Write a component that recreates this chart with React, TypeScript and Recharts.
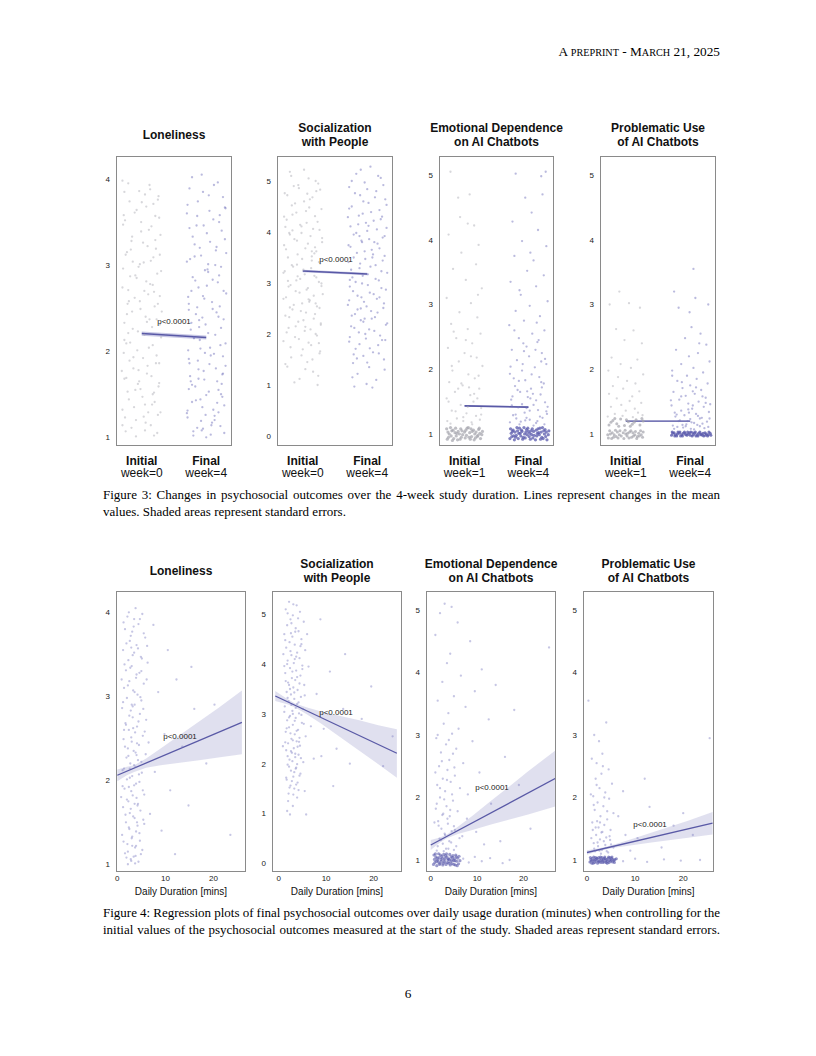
import React, { useLayoutEffect, useRef, useState } from 'react';
import { ComposedChart, Scatter, Line, Area, XAxis, YAxis } from 'recharts';

type P = [number, number];
type B = [number, number, number];

// ---------- Figure 3 data (x: 0 = initial, 1 = final, with jitter) ----------
const lonInit: P[] = [
  [-0.21,3.95],[0.05,3.82],[0.18,3.71],[-0.08,3.64],[0.27,3.55],[-0.29,3.47],[0.11,3.41],[-0.15,3.33],[0.02,3.26],[0.22,3.19],
  [-0.25,3.12],[0.14,3.05],[-0.05,2.98],[0.30,2.93],[-0.18,2.87],[0.07,2.81],[-0.30,2.74],[0.19,2.69],[-0.11,2.62],[0.25,2.55],
  [-0.02,2.49],[-0.23,2.43],[0.12,2.37],[0.28,2.31],[-0.14,2.26],[0.04,2.19],[-0.27,2.13],[0.17,2.07],[-0.07,2.01],[0.23,1.95],
  [-0.19,1.89],[0.09,1.83],[-0.31,1.77],[0.15,1.71],[-0.04,1.65],[0.26,1.59],[-0.22,1.53],[0.01,1.47],[0.20,1.41],[-0.12,1.35],
  [0.29,1.29],[-0.26,1.23],[0.06,1.17],[-0.16,1.11],[0.24,1.05],[-0.09,1.01],[0.13,3.88],[-0.28,3.58],[0.21,3.29],[-0.03,3.01],
  [0.17,2.77],[-0.20,2.58],[0.08,2.34],[-0.24,2.09],[0.27,1.86],[-0.06,1.62],[0.16,1.38],[-0.30,1.14],[0.03,1.24],[-0.13,1.93],
  [0.10,2.66],[-0.17,3.18],[0.25,3.76],[-0.01,3.50],[0.31,2.46],[-0.27,1.68],[0.19,1.52],[-0.10,2.88],[0.05,1.08],[-0.21,2.21],
];
const lonInit2: P[] = [
  [-0.30,3.98],[0.12,3.93],[-0.04,3.86],[0.26,3.80],[-0.19,3.74],[0.07,3.68],[-0.11,3.61],[0.21,3.57],[-0.26,3.52],[0.15,3.45],
  [-0.01,3.39],[0.29,3.35],[-0.16,3.28],[0.09,3.22],[-0.23,3.15],[0.18,3.09],[0.03,3.03],[-0.29,2.96],[0.24,2.90],[-0.08,2.85],
  [0.13,2.78],[-0.21,2.71],[0.28,2.64],[-0.03,2.58],[0.20,2.52],[-0.15,2.46],[0.06,2.40],[-0.27,2.33],[0.16,2.28],[-0.06,2.23],
  [0.30,2.16],[-0.18,2.10],[0.11,2.04],[-0.28,1.98],[0.02,1.92],[0.22,1.86],[-0.13,1.80],[0.08,1.74],[-0.24,1.69],[0.27,1.63],
  [-0.02,1.56],[0.17,1.50],[-0.20,1.44],[0.05,1.38],[-0.30,1.32],[0.25,1.26],[-0.09,1.20],[0.14,1.14],[-0.25,1.07],[0.19,1.02],
  [0.00,3.73],[-0.14,3.04],[0.23,2.37],[-0.05,1.78],[0.10,1.29],[-0.22,2.55],[0.28,3.12],[-0.10,1.55],[0.04,2.70],[-0.27,3.85],
];
const lonFinal: P[] = [
  [0.78,4.02],[1.12,3.93],[0.95,3.85],[1.26,3.79],[0.71,3.70],[1.05,3.63],[0.86,3.57],[1.20,3.50],[0.74,3.43],[1.01,3.37],
  [1.29,3.30],[0.82,3.24],[1.15,3.17],[0.92,3.11],[0.70,3.04],[1.23,2.98],[1.03,2.92],[0.79,2.86],[1.18,2.80],[0.88,2.74],
  [1.31,2.67],[0.97,2.61],[0.73,2.55],[1.10,2.49],[0.84,2.43],[1.27,2.37],[0.99,2.31],[0.76,2.25],[1.14,2.19],[0.90,2.13],
  [1.22,2.07],[0.72,2.01],[1.07,1.95],[0.87,1.89],[1.30,1.83],[0.96,1.77],[0.75,1.71],[1.17,1.65],[0.83,1.59],[1.04,1.53],
  [1.25,1.47],[0.78,1.41],[0.94,1.35],[1.19,1.29],[0.71,1.23],[1.09,1.17],[0.86,1.11],[1.28,1.05],[1.00,1.00],[0.80,1.02],
  [1.13,1.20],[0.91,1.44],[1.24,1.62],[0.74,1.86],[1.06,2.04],[0.89,2.28],[1.21,2.52],[0.77,2.70],[1.02,2.95],[1.16,3.21],
  [0.85,3.46],[1.30,3.66],[0.93,1.08],[1.11,1.32],[0.73,1.56],[1.26,1.74],[0.98,1.98],[0.81,2.16],[1.19,2.40],[0.95,2.64],
  [1.08,1.14],[0.70,1.28],[1.23,1.50],[0.88,1.68],[1.03,3.01],
];
const lonFinal2: P[] = [
  [0.93,4.05],[1.18,3.96],[0.74,3.89],[1.04,3.81],[0.87,3.74],[1.29,3.67],[0.70,3.60],[1.11,3.53],[0.96,3.46],[1.24,3.40],
  [0.79,3.33],[1.06,3.27],[0.90,3.20],[1.31,3.14],[0.75,3.07],[1.14,3.00],[0.98,2.94],[1.20,2.88],[0.83,2.82],[1.01,2.76],
  [1.27,2.70],[0.72,2.63],[1.09,2.57],[0.86,2.51],[1.16,2.45],[0.94,2.39],[0.77,2.33],[1.23,2.27],[1.03,2.21],[0.81,2.15],
  [1.30,2.09],[0.91,2.03],[1.12,1.97],[0.73,1.91],[1.05,1.85],[0.88,1.79],[1.25,1.73],[0.97,1.67],[0.78,1.61],[1.19,1.55],
  [1.00,1.49],[0.84,1.43],[1.28,1.37],[0.71,1.31],[1.13,1.25],[0.92,1.19],[1.22,1.13],[0.80,1.07],[1.07,1.03],[0.95,1.10],
  [1.17,1.40],[0.76,1.65],[1.26,1.94],[0.89,2.36],[1.10,2.83],[0.82,3.10],[1.21,3.58],[0.99,1.26],[1.15,1.80],[0.73,2.48],
];
const socInit: P[] = [
  [-0.20,5.18],[0.09,5.05],[0.24,4.95],[-0.06,4.86],[-0.28,4.76],[0.15,4.68],[0.02,4.60],[-0.17,4.52],[0.29,4.45],[-0.10,4.38],
  [0.19,4.31],[-0.25,4.24],[0.06,4.18],[-0.02,4.11],[0.26,4.04],[-0.21,3.98],[0.12,3.92],[-0.13,3.86],[0.30,3.80],[-0.29,3.74],
  [0.04,3.68],[0.21,3.62],[-0.08,3.56],[-0.23,3.50],[0.14,3.44],[0.27,3.38],[-0.15,3.32],[0.01,3.26],[-0.30,3.20],[0.18,3.14],
  [-0.04,3.08],[0.25,3.02],[-0.19,2.96],[0.08,2.90],[-0.11,2.84],[0.31,2.78],[-0.26,2.72],[0.11,2.66],[-0.01,2.60],[0.22,2.54],
  [-0.16,2.48],[0.05,2.42],[-0.27,2.36],[0.17,2.30],[-0.07,2.24],[0.28,2.18],[-0.22,2.12],[0.03,2.06],[0.20,2.00],[-0.12,1.94],
  [-0.30,1.86],[0.13,1.78],[0.00,1.70],[0.26,1.62],[-0.18,1.54],[0.07,1.45],[-0.24,1.36],[0.16,1.26],[-0.05,1.12],[0.23,1.00],
  [-0.14,4.90],[0.10,4.48],[-0.27,4.10],[0.19,3.70],[-0.09,3.36],[0.29,2.94],[-0.20,2.52],[0.04,2.14],[0.25,1.82],[-0.02,3.98],
  [0.14,3.52],[-0.23,3.04],[0.09,2.68],[-0.16,4.34],[0.21,4.80],
];
const socInit2: P[] = [
  [0.02,5.22],[-0.18,5.10],[0.20,5.00],[-0.07,4.92],[0.27,4.83],[-0.24,4.72],[0.11,4.64],[-0.12,4.56],[0.05,4.41],[-0.29,4.30],
  [0.23,4.20],[-0.04,4.14],[0.16,4.06],[-0.20,3.95],[0.30,3.88],[-0.09,3.83],[0.08,3.77],[-0.26,3.66],[0.18,3.58],[-0.01,3.47],
  [0.25,3.41],[-0.17,3.35],[0.13,3.29],[-0.28,3.23],[0.03,3.17],[0.21,3.11],[-0.10,3.05],[0.29,2.99],[-0.22,2.93],[0.06,2.87],
  [-0.05,2.81],[0.17,2.75],[-0.30,2.69],[0.10,2.63],[-0.14,2.57],[0.26,2.51],[-0.03,2.45],[0.19,2.39],[-0.21,2.33],[0.01,2.27],
  [0.28,2.21],[-0.11,2.15],[0.12,2.09],[-0.25,2.03],[0.22,1.97],[-0.06,1.90],[0.09,1.83],[-0.19,1.74],[0.27,1.66],[-0.02,1.58],
  [0.15,1.50],[-0.27,1.41],[0.04,1.31],[0.24,1.18],[-0.13,1.05],[0.07,4.75],[-0.16,4.03],[0.14,3.62],[-0.08,3.13],[0.20,2.60],
];
const socFinal: P[] = [
  [1.05,5.28],[0.83,5.14],[1.21,5.06],[0.96,4.97],[0.72,4.88],[1.14,4.80],[0.89,4.72],[1.28,4.64],[1.02,4.57],[0.76,4.50],
  [1.19,4.43],[0.93,4.36],[0.70,4.29],[1.10,4.22],[0.86,4.15],[1.30,4.08],[1.00,4.02],[0.79,3.95],[1.24,3.89],[0.91,3.83],
  [1.16,3.77],[0.74,3.71],[1.07,3.65],[0.84,3.59],[1.27,3.53],[0.97,3.47],[0.71,3.41],[1.13,3.35],[0.88,3.29],[1.22,3.23],
  [1.01,3.17],[0.77,3.11],[1.18,3.05],[0.92,2.99],[0.73,2.93],[1.29,2.87],[1.04,2.81],[0.85,2.75],[1.15,2.69],[0.95,2.63],
  [0.70,2.57],[1.25,2.51],[1.06,2.45],[0.81,2.39],[1.12,2.33],[0.90,2.27],[1.31,2.21],[0.75,2.15],[1.03,2.09],[0.87,2.03],
  [1.20,1.97],[0.98,1.91],[0.72,1.85],[1.17,1.78],[0.82,1.71],[1.09,1.64],[0.94,1.57],[1.26,1.50],[0.78,1.43],[1.03,1.35],
  [0.85,1.22],[1.14,1.10],[0.80,0.97],[0.99,1.02],[1.23,4.30],[0.88,3.92],[1.08,3.50],[0.73,3.06],[1.19,2.72],[0.96,2.30],
  [1.28,1.88],[0.79,1.60],[1.11,3.80],[0.90,2.50],[1.02,4.12],
];
const socFinal2: P[] = [
  [0.90,5.22],[1.17,5.10],[0.76,5.00],[1.25,4.92],[1.00,4.84],[0.81,4.76],[1.12,4.68],[0.94,4.60],[1.30,4.53],[0.72,4.46],
  [1.06,4.39],[0.87,4.32],[1.21,4.25],[0.98,4.18],[0.74,4.11],[1.15,4.05],[0.83,3.98],[1.27,3.92],[1.03,3.86],[0.92,3.80],
  [0.71,3.74],[1.19,3.68],[0.96,3.62],[1.09,3.56],[0.79,3.50],[1.24,3.44],[0.89,3.38],[1.05,3.32],[0.75,3.26],[1.31,3.20],
  [0.93,3.14],[1.13,3.08],[0.82,3.02],[1.01,2.96],[1.22,2.90],[0.78,2.84],[1.10,2.78],[0.91,2.72],[0.72,2.66],[1.26,2.60],
  [0.99,2.54],[0.85,2.48],[1.16,2.42],[0.76,2.36],[1.07,2.30],[0.94,2.24],[1.29,2.18],[0.80,2.12],[1.11,2.06],[0.97,2.00],
  [0.73,1.94],[1.23,1.88],[0.88,1.80],[1.04,1.72],[1.18,1.62],[0.84,1.52],[1.00,1.44],[1.27,1.30],[0.77,1.15],[1.08,0.95],
];
const edInitSparse: P[] = [
  [-0.22,5.05],[0.08,4.70],[-0.10,4.65],[0.15,4.22],[-0.25,4.08],[0.05,4.25],[0.22,3.92],[-0.05,3.80],[0.18,3.62],[-0.18,3.55],
  [0.02,3.38],[0.27,3.25],[-0.28,3.10],[0.10,3.02],[-0.08,2.88],[0.20,2.80],[-0.21,2.70],[0.05,2.62],[0.25,2.55],[-0.13,2.48],
  [0.12,2.40],[-0.26,2.33],[0.00,2.25],[0.19,2.18],[-0.09,2.12],[0.28,2.05],[-0.19,1.98],[0.06,1.92],[0.16,1.86],[-0.24,1.80],
  [-0.03,1.75],[0.23,1.70],[-0.15,1.65],[0.09,1.60],[-0.28,1.55],[0.14,1.50],[-0.06,1.45],[0.26,1.40],[-0.20,1.36],[0.03,1.32],
  [0.18,1.28],[-0.12,1.24],[-0.27,1.20],[0.11,1.18],[0.24,1.22],[-0.02,1.26],[0.07,1.72],[-0.17,2.58],[0.21,3.15],[-0.07,4.35],
  [0.10,2.20],[-0.20,2.05],[0.22,1.90],[-0.05,1.78],[0.15,1.62],[-0.25,1.50],[0.05,1.42],[-0.14,1.35],[0.26,1.30],[-0.02,1.20],
  [0.12,1.15],[-0.22,1.16],[0.20,1.55],[-0.10,1.70],[0.02,2.45],
];
const edInitBand: P[] = [
  [-0.27,0.92],[-0.20,1.05],[-0.13,0.97],[-0.06,1.08],[0.01,0.94],[0.08,1.02],[0.15,0.91],[0.22,1.07],[0.27,0.99],
  [-0.24,1.00],[-0.17,0.93],[-0.10,1.04],[-0.03,0.99],[0.04,1.09],[0.11,0.96],[0.18,1.03],[0.25,0.93],
  [-0.28,1.08],[-0.21,0.97],[-0.14,1.09],[-0.07,0.92],[0.00,1.03],[0.07,0.95],[0.14,1.06],[0.21,0.98],[0.28,1.04],
  [-0.25,0.95],[-0.18,1.06],[-0.11,0.91],[-0.04,1.05],[0.03,0.98],[0.10,1.08],[0.17,0.94],[0.24,1.01],
  [-0.26,1.03],[-0.19,0.90],[-0.12,1.01],[-0.05,0.95],[0.02,1.06],[0.09,0.92],[0.16,1.00],[0.23,1.09],
  [-0.22,1.10],[-0.08,1.00],[0.06,1.10],[0.20,0.96],[-0.15,1.02],[0.12,1.04],
];
const edFinalSparse: P[] = [
  [0.80,5.02],[1.27,5.05],[1.20,4.98],[0.95,4.65],[1.22,4.70],[1.05,4.42],[0.75,4.28],[1.15,4.15],[0.90,3.98],[1.28,3.90],
  [0.78,3.75],[1.08,3.68],[0.98,3.52],[1.24,3.45],[0.72,3.35],[1.12,3.28],[0.88,3.15],[1.30,3.05],[1.02,2.98],[0.80,2.90],
  [1.18,2.82],[0.93,2.75],[0.70,2.68],[1.25,2.60],[1.06,2.55],[0.85,2.48],[1.14,2.42],[0.97,2.35],[0.74,2.30],[1.21,2.25],
  [1.01,2.20],[0.82,2.14],[1.28,2.08],[1.10,2.03],[0.90,1.98],[0.71,1.93],[1.17,1.88],[0.95,1.83],[1.24,1.78],[0.79,1.74],
  [1.04,1.70],[0.87,1.65],[1.19,1.61],[0.99,1.57],[0.73,1.53],[1.26,1.49],[1.08,1.45],[0.84,1.41],[1.15,1.37],[0.94,1.33],
  [0.76,1.29],[1.22,1.25],[1.02,1.22],[0.88,1.19],[1.12,1.17],[0.81,1.24],[1.29,1.31],[0.97,1.40],[1.07,1.62],[0.77,1.86],
  [1.20,2.12],[0.92,2.40],[1.13,2.72],[0.86,3.22],[1.03,3.80],
  [0.78,2.60],[1.16,2.45],[0.93,2.28],[1.26,2.16],[0.72,2.04],[1.05,1.92],[0.85,1.82],[1.21,1.72],[0.98,1.66],[0.75,1.58],
  [1.12,1.52],[0.90,1.46],[1.30,1.42],[1.02,1.36],[0.80,1.30],[1.18,1.27],[0.95,1.21],[0.71,1.18],[1.25,1.15],[1.08,1.13],
  [0.86,1.15],[1.14,1.20],[0.97,1.25],[1.28,1.35],[0.74,1.44],[1.03,1.55],[0.83,1.68],[1.20,1.80],[0.91,2.08],[1.11,2.30],
];
const edFinalBand: P[] = [
  [0.71,0.93],[0.76,1.06],[0.81,0.98],[0.86,1.09],[0.91,0.92],[0.96,1.03],[1.01,0.96],[1.06,1.08],[1.11,0.91],[1.16,1.02],[1.21,0.95],[1.26,1.07],[1.31,0.99],
  [0.73,1.01],[0.78,0.91],[0.83,1.05],[0.88,0.97],[0.93,1.10],[0.98,0.99],[1.03,0.92],[1.08,1.04],[1.13,0.97],[1.18,1.09],[1.23,0.93],[1.28,1.03],
  [0.72,1.08],[0.77,0.97],[0.82,1.10],[0.87,1.01],[0.92,0.95],[0.97,1.07],[1.02,1.01],[1.07,0.94],[1.12,1.06],[1.17,0.99],[1.22,1.10],[1.27,0.96],[1.32,1.05],
  [0.74,0.96],[0.79,1.03],[0.84,0.93],[0.89,1.06],[0.94,1.00],[0.99,1.09],[1.04,1.05],[1.09,0.98],[1.14,1.01],[1.19,0.92],[1.24,1.05],[1.29,0.91],
  [0.75,1.04],[0.85,1.01],[0.95,0.94],[1.05,0.99],[1.15,1.08],[1.25,1.00],[0.80,0.95],[1.00,1.04],[1.20,1.03],[0.90,1.04],
];
const puInitSparse: P[] = [
  [-0.10,3.20],[-0.25,3.00],[0.05,3.02],[0.22,2.95],[-0.15,2.62],[0.12,2.60],[-0.02,2.45],[0.25,2.40],[-0.22,2.18],[0.18,2.15],
  [-0.08,2.08],[0.08,2.02],[-0.27,1.98],[0.27,1.92],[-0.12,1.88],[0.02,1.82],[0.15,1.78],[-0.20,1.74],[-0.04,1.70],[0.21,1.66],
  [-0.26,1.62],[0.10,1.58],[-0.14,1.55],[0.06,1.51],[0.24,1.48],[-0.07,1.45],[-0.23,1.42],[0.14,1.39],[0.00,1.36],[0.19,1.33],
  [-0.17,1.31],[-0.05,1.28],[0.11,1.26],[0.26,1.29],[-0.28,1.27],
];
const puInitBand: P[] = [
  [-0.27,0.94],[-0.21,1.02],[-0.15,0.96],[-0.09,1.05],[-0.03,0.93],[0.03,1.01],[0.09,0.95],[0.15,1.04],[0.21,0.97],[0.27,1.03],
  [-0.25,1.05],[-0.19,0.95],[-0.13,1.03],[-0.07,0.97],[-0.01,1.06],[0.05,0.94],[0.11,1.02],[0.17,0.93],[0.23,1.05],
  [-0.28,0.99],[-0.22,0.93],[-0.16,1.06],[-0.10,0.99],[-0.04,1.02],[0.02,0.97],[0.08,1.05],[0.14,0.99],[0.20,1.01],[0.26,0.95],
  [-0.24,1.00],[-0.12,0.94],[0.00,1.00],[0.12,0.97],[0.24,0.99],[-0.18,0.99],[0.06,1.03],[0.18,0.96],
  [-0.26,1.14],[-0.20,1.21],[-0.14,1.16],[-0.08,1.23],[-0.02,1.13],[0.04,1.19],[0.10,1.15],[0.16,1.22],[0.22,1.14],[0.27,1.20],
  [-0.23,1.18],[-0.11,1.12],[0.01,1.22],[0.13,1.18],[0.25,1.24],[-0.17,1.24],[0.07,1.12],
];
const puFinalSparse: P[] = [
  [1.05,3.55],[0.75,3.20],[1.08,3.10],[1.28,3.00],[0.82,2.95],[1.02,2.65],[1.16,2.55],[0.92,2.48],[1.25,2.38],[0.78,2.30],
  [1.12,2.25],[0.98,2.20],[1.30,2.12],[0.86,2.08],[1.05,2.02],[0.72,1.98],[1.20,1.95],[0.95,1.90],[1.10,1.85],[0.80,1.82],
  [1.27,1.78],[1.00,1.75],[0.88,1.71],[1.17,1.68],[0.74,1.65],[1.07,1.62],[0.93,1.59],[1.24,1.56],[0.83,1.53],[1.13,1.50],
  [0.97,1.47],[0.71,1.44],[1.21,1.42],[1.03,1.39],[0.86,1.36],[1.29,1.34],[1.09,1.31],[0.91,1.29],[0.77,1.27],[1.18,1.25],
  [1.00,1.23],[0.84,1.21],[1.26,1.19],[1.06,1.17],[0.94,1.15],[0.73,1.13],[1.15,1.12],[0.89,1.10],[1.22,1.09],[1.01,1.08],
  [0.80,1.11],[1.11,1.14],[0.96,1.20],[1.30,1.24],[0.76,1.33],[1.04,1.44],[1.19,1.58],[0.87,1.80],[1.14,2.40],[0.99,2.88],
  [0.72,1.90],[1.09,1.72],[0.86,1.58],[1.24,1.48],[0.97,1.38],[0.79,1.30],[1.15,1.24],[1.02,1.18],[0.88,1.14],[1.28,1.11],
  [0.75,1.08],[1.06,1.07],[0.93,1.12],[1.19,1.16],[0.82,1.20],[1.12,1.28],[0.98,1.33],[1.31,1.46],[0.70,1.52],[1.04,1.66],
];
const puFinalBand: P[] = [
  [0.71,0.98],[0.75,1.02],[0.79,0.97],[0.83,1.01],[0.87,0.99],[0.91,1.03],[0.95,0.98],[0.99,1.02],[1.03,0.97],[1.07,1.01],[1.11,0.99],[1.15,1.03],[1.19,0.98],[1.23,1.02],[1.27,0.97],[1.31,1.01],
  [0.73,1.01],[0.77,0.99],[0.81,1.03],[0.85,0.97],[0.89,1.01],[0.93,0.99],[0.97,1.00],[1.01,1.03],[1.05,0.99],[1.09,0.97],[1.13,1.01],[1.17,1.00],[1.21,0.97],[1.25,1.00],[1.29,1.03],
  [0.72,1.03],[0.76,0.97],[0.80,1.00],[0.84,1.03],[0.88,0.97],[0.92,1.01],[0.96,1.03],[1.00,0.98],[1.04,1.02],[1.08,1.03],[1.12,0.97],[1.16,0.99],[1.20,1.01],[1.24,0.98],[1.28,0.99],[1.32,0.98],
];
// mean-change lines and standard-error bands (x, value) / (x, low, high)
const lonMean: P[] = [[0, 2.205], [1, 2.159]];
const lonMeanSE: B[] = [[0, 2.18, 2.23], [1, 2.135, 2.183]];
const socMean: P[] = [[0, 3.235], [1, 3.176]];
const socMeanSE: B[] = [[0, 3.212, 3.258], [1, 3.153, 3.199]];
const edMean: P[] = [[0, 1.435], [1, 1.415]];
const edMeanSE: B[] = [[0, 1.42, 1.45], [1, 1.40, 1.43]];
const puMean: P[] = [[0, 1.2], [1, 1.2]];
const puMeanSE: B[] = [[0, 1.19, 1.21], [1, 1.19, 1.21]];

// ---------- Figure 4 data (x: daily duration in minutes) ----------
const lonRegPts: P[] = [
  [3.8,4.05],[5.2,3.98],[2.1,3.95],[4.4,3.86],[1.6,3.80],[3.1,3.77],[5.8,3.70],[2.6,3.66],[4.0,3.61],[1.2,3.55],
  [3.5,3.52],[4.9,3.47],[2.3,3.43],[6.3,3.40],[3.0,3.36],[1.8,3.31],[4.6,3.28],[3.9,3.22],[2.5,3.18],[5.5,3.15],
  [1.4,3.10],[3.3,3.07],[4.2,3.02],[2.0,2.98],[5.0,2.95],[3.6,2.90],[1.0,2.86],[2.8,2.83],[4.7,2.79],[3.2,2.75],
  [6.0,2.72],[1.7,2.68],[4.1,2.64],[2.4,2.60],[3.7,2.57],[5.3,2.53],[1.3,2.49],[3.0,2.46],[4.5,2.42],[2.2,2.38],
  [3.4,2.35],[5.9,2.31],[1.9,2.27],[4.3,2.24],[2.7,2.20],[3.8,2.16],[1.1,2.12],[5.1,2.09],[3.1,2.05],[2.0,2.01],
  [4.6,1.98],[3.5,1.94],[1.5,1.90],[2.9,1.87],[5.6,1.83],[4.0,1.79],[2.3,1.75],[3.6,1.72],[1.2,1.68],[4.8,1.64],
  [2.6,1.61],[3.3,1.57],[5.4,1.53],[1.8,1.50],[4.2,1.46],[2.5,1.42],[3.9,1.39],[1.0,1.35],[3.0,1.31],[4.7,1.28],
  [2.1,1.24],[3.7,1.20],[5.2,1.17],[1.6,1.13],[3.4,1.09],[2.8,1.06],[4.4,1.03],[2.2,1.00],[3.5,3.92],[4.1,1.50],
  [2.9,3.58],[3.2,2.88],[4.0,2.30],[2.4,1.92],[3.8,1.10],[1.4,2.60],[5.0,3.30],[2.6,2.14],[4.3,1.72],[3.1,1.22],
  [8.5,3.05],[9.8,2.55],[11.0,1.88],[12.3,3.20],[13.5,2.40],[14.8,1.70],[16.0,2.85],[9.2,1.40],[18.5,2.20],[10.5,3.55],
  [7.5,3.85],[23.5,1.35],[20.2,2.90],[12.0,1.12],[7.8,2.10],[15.4,3.35],
];
const lonRegPts2: P[] = [
  [2.4,4.00],[4.7,3.92],[1.3,3.88],[3.4,3.83],[5.5,3.75],[2.8,3.72],[1.9,3.63],[4.3,3.57],[3.2,3.49],[5.1,3.45],
  [1.5,3.38],[2.7,3.34],[4.0,3.26],[6.1,3.20],[2.2,3.13],[3.6,3.05],[4.8,2.99],[1.2,2.93],[3.0,2.90],[5.4,2.85],
  [2.5,2.77],[4.4,2.70],[1.8,2.66],[3.3,2.62],[5.7,2.58],[2.9,2.51],[4.1,2.44],[1.6,2.40],[3.8,2.33],[2.3,2.29],
  [5.0,2.22],[3.5,2.18],[1.4,2.14],[4.5,2.07],[2.6,2.03],[3.9,1.96],[1.1,1.93],[5.3,1.88],[3.2,1.82],[2.0,1.77],
  [4.2,1.70],[2.8,1.66],[1.7,1.59],[3.6,1.55],[5.6,1.48],[2.4,1.44],[4.6,1.37],[3.1,1.33],[1.3,1.27],[3.9,1.22],
  [2.2,1.15],[4.9,1.12],[2.9,1.04],[3.7,1.01],[1.9,1.08],[6.5,2.45],[6.8,1.60],[6.2,3.60],[0.9,3.20],[0.8,1.80],
];
const socRegPts: P[] = [
  [2.2,5.25],[3.8,5.18],[1.5,5.10],[4.5,5.05],[3.0,4.98],[2.5,4.90],[5.3,4.85],[1.8,4.78],[3.6,4.72],[4.2,4.66],
  [1.2,4.60],[2.9,4.55],[4.8,4.50],[2.3,4.44],[3.4,4.39],[1.6,4.33],[5.6,4.28],[3.9,4.23],[2.7,4.18],[4.4,4.12],
  [1.9,4.07],[3.2,4.02],[5.0,3.97],[2.4,3.92],[3.7,3.87],[1.4,3.82],[4.6,3.77],[2.8,3.72],[3.5,3.68],[2.0,3.63],
  [5.4,3.58],[3.1,3.53],[4.0,3.48],[1.7,3.44],[2.6,3.39],[4.7,3.34],[3.3,3.30],[2.1,3.25],[3.9,3.20],[1.3,3.15],
  [5.1,3.10],[2.9,3.06],[4.3,3.01],[2.4,2.96],[3.6,2.92],[1.8,2.87],[4.9,2.82],[3.0,2.78],[2.2,2.73],[4.1,2.68],
  [1.5,2.64],[3.4,2.59],[5.7,2.55],[2.7,2.50],[3.8,2.45],[2.0,2.41],[4.5,2.36],[3.2,2.31],[1.6,2.27],[2.8,2.22],
  [4.2,2.18],[3.5,2.13],[2.3,2.08],[5.2,2.03],[1.9,1.98],[3.7,1.92],[2.6,1.86],[4.6,1.80],[3.1,1.74],[1.7,1.68],
  [4.0,1.62],[2.5,1.56],[3.3,1.50],[5.5,1.45],[2.1,1.40],[3.9,1.32],[1.8,1.05],[2.4,0.98],[5.8,0.98],[3.0,1.15],
  [2.6,4.62],[3.4,4.10],[2.2,3.58],[3.0,3.00],[4.3,2.44],[1.2,3.96],[4.8,4.40],[3.6,1.90],
  [8.0,3.40],[9.5,2.70],[10.8,3.85],[12.2,2.30],[13.6,3.10],[15.0,2.00],[8.8,4.90],[17.5,2.90],[19.5,3.55],[22.0,1.95],
  [11.5,1.55],[7.4,2.10],[14.0,4.20],[24.0,2.55],[9.0,2.15],
];
const socRegPts2: P[] = [
  [3.1,5.20],[1.9,5.02],[4.1,4.92],[2.7,4.82],[3.5,4.65],[1.4,4.48],[4.6,4.36],[2.5,4.26],[3.7,4.15],[1.8,4.00],
  [5.0,3.90],[2.9,3.85],[3.9,3.74],[1.5,3.66],[4.4,3.61],[2.4,3.50],[3.3,3.43],[5.5,3.37],[1.9,3.32],[4.2,3.23],
  [2.7,3.18],[3.6,3.12],[1.2,3.04],[4.8,2.98],[2.2,2.93],[3.4,2.86],[5.3,2.80],[1.7,2.71],[3.8,2.66],[2.5,2.61],
  [4.4,2.52],[3.0,2.47],[1.4,2.43],[4.0,2.34],[2.6,2.25],[3.5,2.20],[1.9,2.15],[4.7,2.11],[2.9,2.05],[3.9,1.99],
  [2.2,1.94],[3.3,1.83],[4.4,1.76],[1.6,1.72],[2.8,1.65],[3.7,1.58],[2.3,1.52],[4.2,1.47],[3.1,1.38],[2.0,1.25],
  [6.3,3.95],[6.8,2.75],[6.0,4.60],[0.9,2.35],[1.0,4.20],
];
const edRegPts: P[] = [
  [3.0,5.10],[4.5,5.05],[2.0,4.95],[5.8,4.80],[8.5,4.50],[1.0,4.60],[4.2,4.30],[25.5,4.40],[3.5,4.15],[11.0,4.05],
  [6.5,3.95],[2.5,3.85],[14.0,3.80],[9.5,3.70],[5.0,3.62],[1.5,3.55],[7.5,3.45],[3.8,3.35],[18.0,3.40],[12.5,3.25],
  [2.8,3.18],[6.0,3.10],[4.6,3.02],[1.2,2.95],[9.0,2.90],[3.3,2.85],[5.5,2.78],[2.2,2.72],[16.0,2.65],[4.0,2.60],
  [7.0,2.55],[1.8,2.50],[3.6,2.44],[10.5,2.40],[5.2,2.35],[2.6,2.30],[4.3,2.25],[1.4,2.20],[6.3,2.15],[3.1,2.10],
  [8.0,2.05],[2.0,2.00],[4.8,1.95],[13.0,1.90],[3.4,1.86],[1.1,1.82],[5.8,1.78],[2.7,1.74],[4.1,1.70],[7.8,1.66],
  [1.6,1.62],[3.7,1.58],[5.0,1.54],[2.3,1.50],[4.5,1.46],[3.0,1.42],[6.8,1.38],[1.9,1.34],[4.0,1.30],[2.6,1.26],
  [5.5,1.22],[3.3,1.18],[1.3,1.15],[9.8,1.45],[21.5,1.50],[19.0,2.20],[15.0,1.30],[11.5,1.25],
  [1.5,3.00],[3.9,2.92],[2.4,2.58],[5.1,2.48],[1.0,2.40],[3.5,2.28],[2.0,2.15],[4.6,2.05],[2.9,1.97],[1.3,1.90],
  [4.2,1.80],[2.5,1.72],[3.6,1.66],[1.7,1.55],[5.2,1.48],[3.1,1.40],[2.2,1.32],[4.4,1.28],[1.5,1.22],[3.8,1.18],
  [2.8,1.14],[5.0,1.16],[6.2,1.35],[0.8,1.60],[4.8,2.70],
  [7.0,1.02],[8.2,0.96],[9.5,1.05],[11.0,0.98],[12.8,1.03],[15.5,0.95],[17.0,1.00],
];
const edRegBand: P[] = [
  [0.6,0.93],[1.1,1.05],[1.6,0.97],[2.1,1.08],[2.6,0.92],[3.1,1.03],[3.6,0.96],[4.1,1.09],[4.6,0.94],[5.1,1.02],[5.6,0.98],[6.1,1.06],
  [0.8,1.01],[1.3,0.91],[1.8,1.04],[2.3,0.98],[2.8,1.09],[3.3,0.93],[3.8,1.02],[4.3,0.97],[4.8,1.07],[5.3,0.92],[5.8,1.03],
  [0.7,1.08],[1.2,0.98],[1.7,1.10],[2.2,1.01],[2.7,0.95],[3.2,1.07],[3.7,1.00],[4.2,0.92],[4.7,1.04],[5.2,0.99],[5.7,0.91],[6.3,0.99],
  [0.9,0.96],[1.4,1.03],[1.9,0.93],[2.4,1.06],[2.9,1.00],[3.4,1.10],[3.9,0.95],[4.4,1.05],[4.9,0.99],[5.4,1.08],[6.0,0.94],
  [1.0,1.10],[1.5,1.00],[2.0,0.95],[2.5,1.03],[3.0,0.97],[3.5,1.05],[4.0,1.01],[4.5,1.00],[5.0,0.93],[5.5,1.05],
];
const puRegPts: P[] = [
  [0.3,3.55],[4.0,3.20],[1.5,3.00],[2.5,2.90],[3.2,2.70],[1.0,2.62],[2.0,2.55],[4.5,2.45],[3.0,2.38],[1.8,2.30],
  [5.2,2.22],[2.6,2.15],[3.8,2.08],[1.3,2.02],[4.6,1.98],[2.2,1.92],[3.4,1.86],[1.6,1.80],[5.5,1.75],[2.8,1.70],
  [4.2,1.65],[1.1,1.60],[3.6,1.56],[2.4,1.52],[4.9,1.48],[3.0,1.44],[1.9,1.40],[4.0,1.36],[2.7,1.33],[3.5,1.30],
  [1.4,1.27],[5.0,1.25],[2.3,1.22],[3.9,1.19],[3.1,1.16],[1.7,1.14],[4.4,1.12],[2.9,1.10],[6.5,1.70],[7.5,2.10],
  [8.0,1.40],[10.5,1.35],[13.0,1.85],[15.5,1.20],[18.0,1.55],[22.0,1.40],[25.5,2.95],[12.0,2.30],[9.0,1.15],[20.0,1.75],
  [0.8,2.05],[3.3,2.50],[2.1,1.62],[4.7,1.38],[1.2,1.48],
  [2.0,2.20],[3.6,2.00],[1.4,1.88],[4.2,1.78],[2.7,1.60],[1.8,1.52],[3.2,1.45],[4.8,1.32],[2.2,1.28],[3.8,1.24],
  [1.5,1.18],[2.6,1.15],[4.1,1.14],[5.5,1.20],[0.9,1.35],
  [7.5,0.98],[10.0,1.02],[12.5,0.97],[16.0,1.01],[19.5,0.99],[23.5,1.00],
];
const puRegBand: P[] = [
  [0.6,0.97],[1.1,1.03],[1.6,0.96],[2.1,1.02],[2.6,0.98],[3.1,1.04],[3.6,0.97],[4.1,1.01],[4.6,0.96],[5.1,1.03],[5.6,0.99],[6.1,1.02],
  [0.8,1.01],[1.3,0.95],[1.8,1.04],[2.3,0.99],[2.8,1.05],[3.3,0.96],[3.8,1.02],[4.3,0.98],[4.8,1.04],[5.3,0.97],[5.8,1.01],
  [0.7,1.04],[1.2,0.99],[1.7,1.01],[2.2,0.95],[2.7,1.02],[3.2,0.99],[3.7,1.05],[4.2,0.95],[4.7,1.00],[5.2,1.05],[5.7,0.96],
  [0.9,0.99],[1.4,1.05],[1.9,0.98],[2.4,1.04],[2.9,0.96],[3.4,1.01],[3.9,0.99],[4.4,1.03],[4.9,0.98],[5.4,1.01],
  [1.0,0.95],[1.5,1.00],[2.0,1.03],[2.5,0.97],[3.0,1.00],[3.5,1.03],[4.0,0.96],[4.5,1.05],[5.0,1.00],
];
// regression fits and standard-error bands
const lonFit: P[] = [[0, 2.06], [25.9, 2.69]];
const lonSE: B[] = [[0,1.99,2.13],[2,2.06,2.16],[3.5,2.10,2.18],[6,2.15,2.26],[9,2.18,2.38],[13,2.21,2.54],[17,2.24,2.70],[21,2.27,2.86],[25.9,2.31,3.07]];
const socFit: P[] = [[-0.7, 3.36], [24.9, 2.21]];
const socSE: B[] = [[-0.7,3.26,3.46],[2,3.19,3.29],[3.5,3.13,3.21],[6,2.99,3.13],[9,2.80,3.05],[13,2.53,2.96],[17,2.26,2.87],[21,1.99,2.77],[24.9,1.72,2.69]];
const edFit: P[] = [[0, 1.24], [27, 2.31]];
const edSE: B[] = [[0,1.16,1.32],[2,1.28,1.36],[3.5,1.35,1.41],[6,1.42,1.54],[9,1.48,1.71],[13,1.57,1.95],[17,1.65,2.18],[21,1.73,2.42],[27,1.86,2.76]];
const puFit: P[] = [[0, 1.12], [26.1, 1.59]];
const puSE: B[] = [[0,1.085,1.155],[2,1.135,1.18],[3.5,1.165,1.205],[6,1.20,1.256],[9,1.234,1.33],[13,1.275,1.43],[17,1.315,1.53],[21,1.355,1.63],[26.1,1.41,1.77]];

const ticks0to5 = [0, 1, 2, 3, 4, 5];
const ticks1to5 = [1, 2, 3, 4, 5];
const ticks1to4 = [1, 2, 3, 4];
const durationTicks = [0, 10, 20];
const groupTicks = [0, 1];
const labelsW0: [string, string][] = [['Initial', 'week=0'], ['Final', 'week=4']];
const labelsW1: [string, string][] = [['Initial', 'week=1'], ['Final', 'week=4']];

// ---------- styling ----------
const SANS = '"Liberation Sans", Arial, Helvetica, sans-serif';
const SERIF = '"Liberation Serif", "Times New Roman", Times, serif';
const GRAY = '#a6a6b0';
const GRAY_D = '#a4a4ac';
const BLUE = '#7676be';
const BLUE_D = '#5a5aac';
const LINE = '#5959a6';

interface Cloud { pts: P[]; color: string; r: number; op: number }
interface PanelCfg {
  box: [number, number, number, number];
  title: string[];
  titleTop: number;
  xDomain: [number, number];
  yDomain: [number, number];
  yTicks: number[];
  xTicks: number[];
  groupLabels?: [string, string][];
  clouds: Cloud[];
  fit: P[];
  se: B[];
  lineWidth: number;
  bandColor: string;
  p?: [number, number];
}

const toXY = (a: P[]) => a.map(([x, y]) => ({ x, y }));
const toFit = (a: P[]) => a.map(([x, fit]) => ({ x, fit }));
const toBand = (a: B[]) => a.map(([x, lo, hi]) => ({ x, band: [lo, hi] }));

const dotShape = (color: string, r: number, op: number) => (props: any) => {
  if (props == null || props.cx == null || props.cy == null) return <g />;
  return <circle cx={props.cx} cy={props.cy} r={r} fill={color} fillOpacity={op} />;
};

const makeGroupTick = (labels: [string, string][]) => (props: any) => {
  const { x, y, payload } = props;
  const i = payload && payload.value >= 0.5 ? 1 : 0;
  return (
    <g>
      <text x={x} y={y + 19} textAnchor="middle" fontFamily={SANS} fontSize={12} fontWeight="bold" fill="#111">{labels[i][0]}</text>
      <text x={x} y={y + 31} textAnchor="middle" fontFamily={SANS} fontSize={12} fill="#111">{labels[i][1]}</text>
    </g>
  );
};

function Panel({ cfg }: { cfg: PanelCfg }) {
  const [L, T, W, H] = cfg.box;
  const yw = 30;
  const xh = cfg.groupLabels ? 40 : 14;
  const tick = cfg.groupLabels ? makeGroupTick(cfg.groupLabels) : { fontSize: 8, fill: '#222', fontFamily: SANS };
  return (
    <>
      <div style={{ position: 'absolute', left: L - 20, top: cfg.titleTop, width: W + 40, height: 28, display: 'flex', flexDirection: 'column', justifyContent: 'center', alignItems: 'center', fontFamily: SANS, fontWeight: 'bold', fontSize: 12, lineHeight: '13.7px', color: '#111' }}>
        {cfg.title.map((t, i) => <div key={i}>{t}</div>)}
      </div>
      <div style={{ position: 'absolute', left: L - yw, top: T, width: W + yw, height: H + xh }}>
        <ComposedChart width={W + yw} height={H + xh} margin={{ top: 0, right: 0, bottom: 0, left: 0 }}>
          <XAxis type="number" dataKey="x" domain={cfg.xDomain} allowDataOverflow ticks={cfg.xTicks} interval={0}
            height={xh} axisLine={false} tickLine={false} tickSize={0} tickMargin={cfg.groupLabels ? 0 : 3} tick={tick as any} />
          <YAxis type="number" dataKey="y" domain={cfg.yDomain} allowDataOverflow ticks={cfg.yTicks} interval={0}
            width={yw} axisLine={false} tickLine={false} tickSize={0} tickMargin={6}
            tick={{ fontSize: 8, fill: '#222', fontFamily: SANS }} />
          {cfg.clouds.map((c, i) => (
            <Scatter key={i} data={toXY(c.pts)} dataKey="y" shape={dotShape(c.color, c.r, c.op)} isAnimationActive={false} />
          ))}
          <Area data={toBand(cfg.se)} dataKey="band" type="linear" stroke="none" fill={cfg.bandColor} fillOpacity={0.75}
            dot={false} activeDot={false} isAnimationActive={false} />
          <Line data={toFit(cfg.fit)} dataKey="fit" type="linear" stroke={LINE} strokeWidth={cfg.lineWidth}
            dot={false} activeDot={false} isAnimationActive={false} />
        </ComposedChart>
        <div style={{ position: 'absolute', left: yw, top: 0, width: W, height: H, border: '1px solid #8a8a8a', boxSizing: 'border-box', pointerEvents: 'none' }} />
      </div>
      {cfg.p && (
        <div style={{ position: 'absolute', left: cfg.p[0], top: cfg.p[1], transform: 'translate(-50%, -50%)', fontFamily: SANS, fontSize: 8, color: '#222', whiteSpace: 'nowrap' }}>p&lt;0.0001</div>
      )}
      {!cfg.groupLabels && (
        <div style={{ position: 'absolute', left: L, top: T + H + 14, width: W, textAlign: 'center', fontFamily: SANS, fontSize: 10, color: '#111', whiteSpace: 'nowrap' }}>Daily Duration [mins]</div>
      )}
    </>
  );
}

const TOP_Y = 156, TOP_H = 290, BOT_Y = 591, BOT_H = 281;
const topDomainX: [number, number] = [-0.4, 1.4];
const S = 1.15;

const panels: PanelCfg[] = [
  { box: [116, TOP_Y, 116, TOP_H], title: ['Loneliness'], titleTop: 122, xDomain: topDomainX, yDomain: [0.899, 4.267], yTicks: ticks1to4, xTicks: groupTicks, groupLabels: labelsW0,
    clouds: [{ pts: lonInit, color: GRAY, r: S, op: 0.45 }, { pts: lonInit2, color: GRAY, r: S, op: 0.45 },
      { pts: lonFinal, color: BLUE, r: S, op: 0.5 }, { pts: lonFinal2, color: BLUE, r: S, op: 0.5 }],
    fit: lonMean, se: lonMeanSE, lineWidth: 1.6, bandColor: '#b8b8de', p: [174, 321] },
  { box: [277, TOP_Y, 116, TOP_H], title: ['Socialization', 'with People'], titleTop: 122, xDomain: topDomainX, yDomain: [-0.196, 5.49], yTicks: ticks0to5, xTicks: groupTicks, groupLabels: labelsW0,
    clouds: [{ pts: socInit, color: GRAY, r: S, op: 0.45 }, { pts: socInit2, color: GRAY, r: S, op: 0.45 },
      { pts: socFinal, color: BLUE, r: S, op: 0.5 }, { pts: socFinal2, color: BLUE, r: S, op: 0.5 }],
    fit: socMean, se: socMeanSE, lineWidth: 1.6, bandColor: '#b8b8de', p: [336, 259] },
  { box: [439, TOP_Y, 115, TOP_H], title: ['Emotional Dependence', 'on AI Chatbots'], titleTop: 122, xDomain: topDomainX, yDomain: [0.815, 5.293], yTicks: ticks1to5, xTicks: groupTicks, groupLabels: labelsW1,
    clouds: [{ pts: edInitSparse, color: GRAY, r: S, op: 0.45 }, { pts: edInitBand, color: GRAY_D, r: 1.6, op: 0.7 },
      { pts: edFinalSparse, color: BLUE, r: S, op: 0.5 }, { pts: edFinalBand, color: BLUE_D, r: 1.6, op: 0.75 }],
    fit: edMean, se: edMeanSE, lineWidth: 1.6, bandColor: '#b8b8de' },
  { box: [600, TOP_Y, 116, TOP_H], title: ['Problematic Use', 'of AI Chatbots'], titleTop: 122, xDomain: topDomainX, yDomain: [0.815, 5.293], yTicks: ticks1to5, xTicks: groupTicks, groupLabels: labelsW1,
    clouds: [{ pts: puInitSparse, color: GRAY, r: S, op: 0.45 }, { pts: puInitBand, color: GRAY_D, r: 1.5, op: 0.7 },
      { pts: puFinalSparse, color: BLUE, r: S, op: 0.5 }, { pts: puFinalBand, color: BLUE_D, r: 1.5, op: 0.8 }],
    fit: puMean, se: puMeanSE, lineWidth: 1.2, bandColor: '#b8b8de' },
  { box: [116, BOT_Y, 130, BOT_H], title: ['Loneliness'], titleTop: 558, xDomain: [-0.27, 26.75], yDomain: [0.908, 4.254], yTicks: ticks1to4, xTicks: durationTicks,
    clouds: [{ pts: lonRegPts, color: BLUE, r: S, op: 0.42 }, { pts: lonRegPts2, color: BLUE, r: S, op: 0.42 }],
    fit: lonFit, se: lonSE, lineWidth: 1.3, bandColor: '#d6d6ea', p: [180, 736] },
  { box: [272, BOT_Y, 130, BOT_H], title: ['Socialization', 'with People'], titleTop: 558, xDomain: [-1.39, 25.98], yDomain: [-0.175, 5.468], yTicks: ticks0to5, xTicks: durationTicks,
    clouds: [{ pts: socRegPts, color: BLUE, r: S, op: 0.42 }, { pts: socRegPts2, color: BLUE, r: S, op: 0.42 }],
    fit: socFit, se: socSE, lineWidth: 1.3, bandColor: '#d6d6ea', p: [336, 712] },
  { box: [426, BOT_Y, 130, BOT_H], title: ['Emotional Dependence', 'on AI Chatbots'], titleTop: 558, xDomain: [-1.02, 27.0], yDomain: [0.808, 5.304], yTicks: ticks1to5, xTicks: durationTicks,
    clouds: [{ pts: edRegPts, color: BLUE, r: S, op: 0.42 }, { pts: edRegBand, color: BLUE_D, r: 1.6, op: 0.6 }],
    fit: edFit, se: edSE, lineWidth: 1.3, bandColor: '#d6d6ea', p: [492, 787] },
  { box: [583, BOT_Y, 131, BOT_H], title: ['Problematic Use', 'of AI Chatbots'], titleTop: 558, xDomain: [-0.83, 26.4], yDomain: [0.808, 5.304], yTicks: ticks1to5, xTicks: durationTicks,
    clouds: [{ pts: puRegPts, color: BLUE, r: S, op: 0.42 }, { pts: puRegBand, color: BLUE_D, r: 1.5, op: 0.65 }],
    fit: puFit, se: puSE, lineWidth: 1.3, bandColor: '#d6d6ea', p: [650, 824] },
];

function JustLine({ text, width, justify }: { text: string; width: number; justify: boolean }) {
  const ref = useRef<HTMLSpanElement>(null);
  const [ws, setWs] = useState(0);
  useLayoutEffect(() => {
    if (!justify || !ref.current) return;
    const natural = ref.current.getBoundingClientRect().width;
    const spaces = (text.match(/ /g) || []).length;
    if (spaces > 0) setWs((width - natural) / spaces);
  }, [text, width, justify]);
  return (
    <div style={{ width, whiteSpace: 'nowrap', height: 17 }}>
      <span ref={ref} style={{ wordSpacing: ws }}>{text}</span>
    </div>
  );
}

const cap3 = ['Figure 3: Changes in psychosocial outcomes over the 4-week study duration. Lines represent changes in the mean', 'values. Shaded areas represent standard errors.'];
const cap4 = ['Figure 4: Regression plots of final psychosocial outcomes over daily usage duration (minutes) when controlling for the', 'initial values of the psychosocial outcomes measured at the start of the study. Shaded areas represent standard errors.'];

export default function App() {
  const capStyle: React.CSSProperties = { position: 'absolute', left: 103, width: 617, fontFamily: SERIF, fontSize: 13, lineHeight: '17px', color: '#000' };
  return (
    <div style={{ position: 'absolute', left: 0, top: 0, width: 816, height: 1056, background: '#fff', overflow: 'hidden' }}>
      <div style={{ position: 'absolute', right: 96, top: 44, fontFamily: SERIF, fontSize: 13.3, color: '#000', whiteSpace: 'nowrap' }}>
        A <span style={{ fontSize: 10.2 }}>PREPRINT</span> - M<span style={{ fontSize: 10.2 }}>ARCH</span> 21, 2025
      </div>
      {panels.map((p, i) => <Panel key={i} cfg={p} />)}
      <div style={{ ...capStyle, top: 486 }}>
        <JustLine text={cap3[0]} width={617} justify />
        <JustLine text={cap3[1]} width={617} justify={false} />
      </div>
      <div style={{ ...capStyle, top: 904 }}>
        <JustLine text={cap4[0]} width={617} justify />
        <JustLine text={cap4[1]} width={617} justify />
      </div>
      <div style={{ position: 'absolute', left: 0, width: 816, top: 986, textAlign: 'center', fontFamily: SERIF, fontSize: 13.3, color: '#000' }}>6</div>
    </div>
  );
}
